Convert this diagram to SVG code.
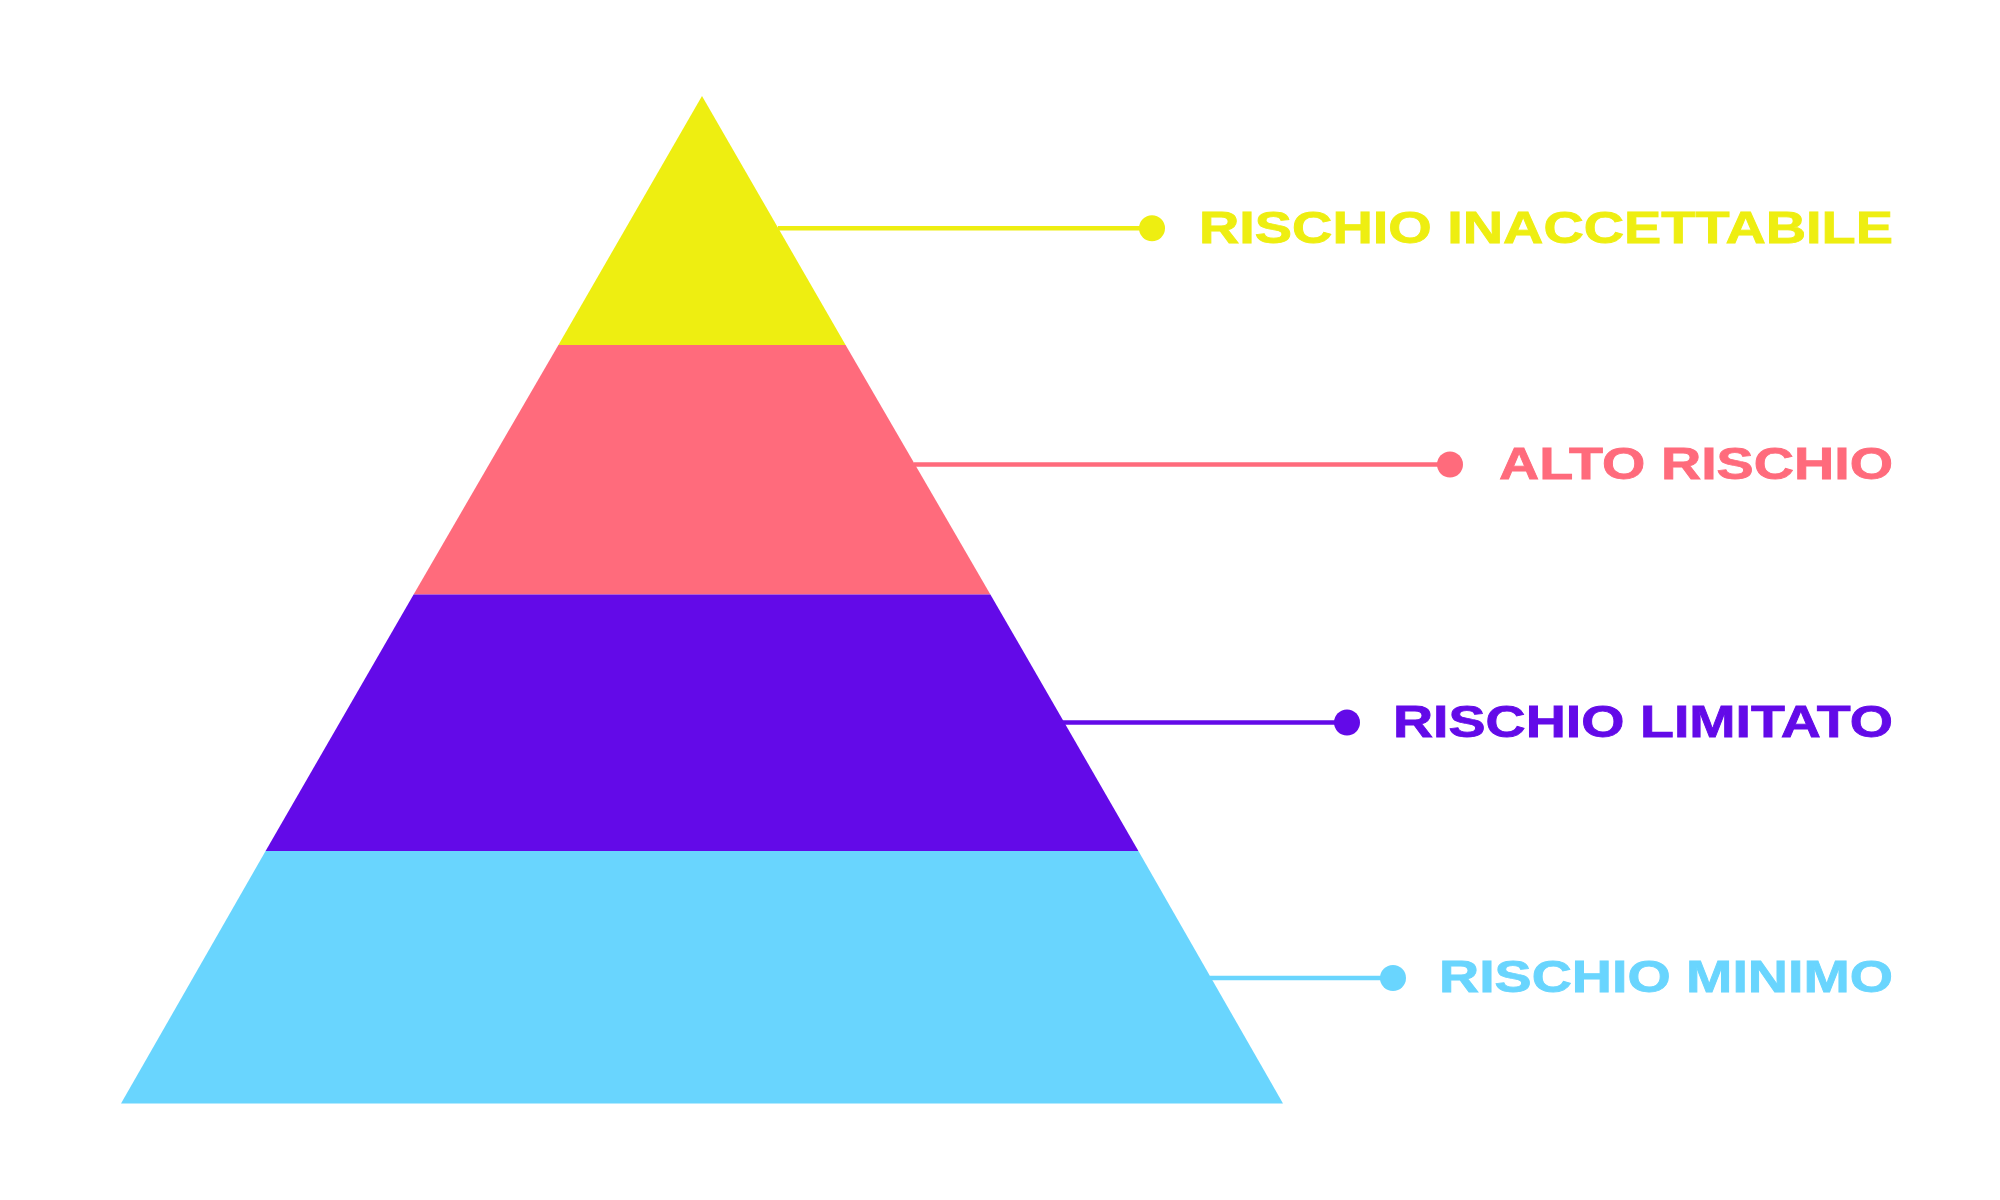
<svg xmlns="http://www.w3.org/2000/svg" width="2000" height="1200" viewBox="0 0 2000 1200">
<style>
.lbl{font-family:"Liberation Sans",Arial,sans-serif;font-weight:bold;font-size:45px;stroke-width:0.8px}
.ln{stroke-width:4.5;fill:none}
</style>
<rect width="2000" height="1200" fill="#ffffff"/>
<g id="pyramid">
<polygon id="level-inaccettabile" points="702,96 845.6,345 558.4,345" fill="#EEEE11"/>
<polygon id="level-alto" points="558.4,345 845.6,345 990.4,594.4 413.6,594.4" fill="#FF6B7C"/>
<polygon id="level-limitato" points="413.6,594.4 990.4,594.4 1138.4,851 265.6,851" fill="#630AE8"/>
<polygon id="level-minimo" points="265.6,851 1138.4,851 1283,1103.5 121,1103.5" fill="#69D5FE"/>
</g>
<g id="connectors">
<line class="ln" x1="778" y1="228.3" x2="1152" y2="228.3" stroke="#EEEE11"/>
<circle cx="1152" cy="228.3" r="13" fill="#EEEE11"/>
<line class="ln" x1="914" y1="464.5" x2="1450" y2="464.5" stroke="#FF6B7C"/>
<circle cx="1450" cy="464.5" r="13" fill="#FF6B7C"/>
<line class="ln" x1="1063" y1="722.5" x2="1347" y2="722.5" stroke="#630AE8"/>
<circle cx="1347" cy="722.5" r="13" fill="#630AE8"/>
<line class="ln" x1="1210" y1="978" x2="1393" y2="978" stroke="#69D5FE"/>
<circle cx="1393" cy="978" r="13" fill="#69D5FE"/>
</g>
<g id="label-inaccettabile">
<text class="lbl" x="1199" y="242.5" textLength="694" lengthAdjust="spacingAndGlyphs" fill="#EEEE11" stroke="#EEEE11">RISCHIO INACCETTABILE</text>
</g>
<g id="label-alto">
<text class="lbl" x="1499" y="478.7" textLength="394" lengthAdjust="spacingAndGlyphs" fill="#FF6B7C" stroke="#FF6B7C">ALTO RISCHIO</text>
</g>
<g id="label-limitato">
<text class="lbl" x="1393" y="736.5" textLength="500" lengthAdjust="spacingAndGlyphs" fill="#630AE8" stroke="#630AE8">RISCHIO LIMITATO</text>
</g>
<g id="label-minimo">
<text class="lbl" x="1439" y="992" textLength="454" lengthAdjust="spacingAndGlyphs" fill="#69D5FE" stroke="#69D5FE">RISCHIO MINIMO</text>
</g>
</svg>
